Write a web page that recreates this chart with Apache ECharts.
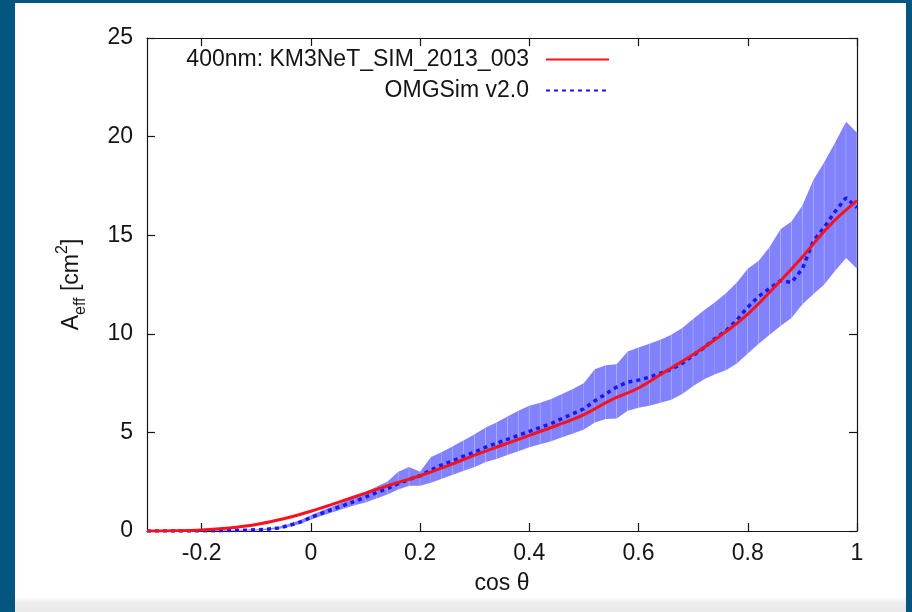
<!DOCTYPE html>
<html><head><meta charset="utf-8">
<script src="https://cdn.jsdelivr.net/npm/echarts@6/dist/echarts.min.js"></script>
<style>
html,body{margin:0;padding:0;width:912px;height:612px;overflow:hidden;background:#03567f;}
#paper{position:absolute;left:15px;top:3px;width:891px;height:609px;background:linear-gradient(to bottom,#ffffff 0,#ffffff 594px,#eeeeee 599px,#e8e8e8 609px);}
#chart{position:absolute;left:0;top:0;width:912px;height:612px;}
</style></head><body><div id="paper"></div><div id="chart"></div>
<script>
// ---- data ----
const xTicks = [-0.2, 0, 0.2, 0.4, 0.6, 0.8, 1];
const xTickLabels = ['-0.2', '0', '0.2', '0.4', '0.6', '0.8', '1'];
const yTicks = [0, 5, 10, 15, 20, 25];

const seriesKM3 = '400nm: KM3NeT_SIM_2013_003';
const seriesOMG = 'OMGSim v2.0';

const km3Cos = [-0.30,-0.25,-0.20,-0.15,-0.10,-0.05,0.00,0.05,0.10,0.15,0.20,0.25,0.30,0.35,0.40,0.45,0.50,0.55,0.60,0.65,0.70,0.75,0.80,0.85,0.90,0.95,1.00];
const km3Aeff = [0,0.01,0.05,0.15,0.33,0.62,1.0,1.45,1.92,2.38,2.8,3.3,3.85,4.35,4.85,5.35,5.9,6.65,7.25,8.1,8.95,9.9,11.0,12.4,13.9,15.5,16.75];

const omgCos = [-0.30,-0.28,-0.26,-0.24,-0.22,-0.20,-0.18,-0.16,-0.14,-0.12,-0.10,-0.08,-0.06,-0.04,-0.02,
  0.00,0.02,0.04,0.06,0.08,0.10,0.12,0.14,0.16,0.18,0.20,0.22,0.24,0.26,0.28,0.30,0.32,0.34,0.36,0.38,
  0.40,0.42,0.44,0.46,0.48,0.50,0.52,0.54,0.56,0.58,0.60,0.62,0.64,0.66,0.68,0.70,0.72,0.74,0.76,0.78,
  0.80,0.82,0.84,0.86,0.88,0.90,0.92,0.94,0.96,0.98,1.00];
const omgMean = [0,0,0,0,0,
  0.01,0.01,0.02,0.03,0.04,0.06,0.09,0.15,0.28,0.45,
  0.68,0.9,1.1,1.3,1.5,1.72,1.95,2.15,2.4,2.62,
  2.8,3.1,3.35,3.55,3.8,4.0,4.25,4.45,4.65,4.85,
  5.05,5.25,5.45,5.7,5.95,6.2,6.6,6.95,7.3,7.55,
  7.65,7.8,8.0,8.2,8.5,8.9,9.3,9.75,10.15,10.7,
  11.35,11.9,12.3,12.7,12.6,13.3,14.7,15.4,16.2,16.9,
  16.4];
const omgLow = [0,0,0,0,0,
  0,0,0,0.01,0.02,0.03,0.05,0.1,0.2,0.36,
  0.57,0.77,0.95,1.13,1.3,1.45,1.65,1.85,2.1,2.3,
  2.3,2.45,2.65,2.85,3.05,3.25,3.5,3.65,3.85,4.05,
  4.25,4.4,4.55,4.75,4.95,5.15,5.5,5.68,5.7,6.1,
  6.25,6.35,6.5,6.65,6.95,7.35,7.7,7.95,8.15,8.5,
  9.0,9.5,9.95,10.4,10.8,11.5,12.0,12.5,13.2,13.85,
  13.3];
const omgHigh = [0,0,0,0,0,
  0.02,0.02,0.04,0.05,0.07,0.09,0.13,0.2,0.35,0.55,
  0.8,1.03,1.25,1.47,1.7,1.95,2.25,2.5,3.0,3.25,
  3.0,3.75,4.0,4.3,4.6,4.9,5.25,5.5,5.8,6.1,
  6.35,6.5,6.7,6.95,7.2,7.5,8.2,8.4,8.45,9.1,
  9.3,9.5,9.7,9.95,10.3,10.75,11.2,11.6,12.05,12.6,
  13.3,13.7,14.4,15.3,15.7,16.5,17.8,18.7,19.7,20.75,
  20.2];

// ---- chart ----
const FONT = '"Liberation Sans", Arial, Helvetica, sans-serif';
const INK = '#141414';
const FS = 23;
const chart = echarts.init(document.getElementById('chart'));

const km3Data = km3Cos.map((c, i) => [c, km3Aeff[i]]);
const omgData = omgCos.map((c, i) => [c, omgMean[i]]);
// one quad per bin: [x0, low0, high0, x1, low1, high1]
const bandQuads = omgCos.slice(0, -1).map((c, i) => [c, omgLow[i], omgHigh[i], omgCos[i + 1], omgLow[i + 1], omgHigh[i + 1]]);

const axisLine = { show: true, onZero: false, lineStyle: { color: INK, width: 1.2 } };
const tickStyle = { color: INK, width: 1.2 };
const legendText = { fontSize: FS, fontFamily: FONT, color: INK, padding: [0, 12, 0, 0] };

const option = {
  animation: false,
  backgroundColor: 'transparent',
  grid: { left: 147, top: 38, right: 55, bottom: 81, containLabel: false },
  legend: [
    { data: [seriesKM3], right: 297, top: 43, align: 'right', itemWidth: 63, itemHeight: 14, selectedMode: false,
      itemStyle: { opacity: 0 }, textStyle: legendText },
    { data: [seriesOMG], right: 297, top: 74, align: 'right', itemWidth: 63, itemHeight: 14, selectedMode: false,
      itemStyle: { opacity: 0 }, textStyle: legendText }
  ],
  xAxis: [
    { type: 'value', min: -0.3, max: 1, position: 'bottom',
      name: 'cos θ', nameLocation: 'middle', nameGap: 41,
      nameTextStyle: { fontSize: FS, fontFamily: FONT, color: INK },
      axisLine: axisLine,
      axisTick: { show: true, inside: true, length: 8, customValues: xTicks, lineStyle: tickStyle },
      axisLabel: { customValues: xTicks, margin: 11, fontSize: FS, fontFamily: FONT, color: INK,
        formatter: v => { const k = xTicks.findIndex(t => Math.abs(t - v) < 1e-9); return k >= 0 ? xTickLabels[k] : ''; } },
      splitLine: { show: false } },
    { type: 'value', min: -0.3, max: 1, position: 'top',
      axisLine: axisLine,
      axisTick: { show: true, inside: true, length: 8, customValues: xTicks, lineStyle: tickStyle },
      axisLabel: { show: false }, splitLine: { show: false } }
  ],
  yAxis: [
    { type: 'value', min: 0, max: 25, interval: 5, position: 'left',
      name: '{a|A}{s|eff}{a| [cm}{p|2}{a|]}', nameLocation: 'middle', nameGap: 58, nameRotate: 90,
      nameTextStyle: { fontSize: FS, fontFamily: FONT, color: INK,
        rich: {
          a: { fontSize: FS, fontFamily: FONT, color: INK, lineHeight: 34, verticalAlign: 'middle' },
          s: { fontSize: 16, fontFamily: FONT, color: INK, lineHeight: 16, verticalAlign: 'bottom' },
          p: { fontSize: 16, fontFamily: FONT, color: INK, lineHeight: 16, verticalAlign: 'top' }
        } },
      axisLine: axisLine,
      axisTick: { show: true, inside: true, length: 8, lineStyle: tickStyle },
      axisLabel: { margin: 14, fontSize: FS, fontFamily: FONT, color: INK,
        formatter: v => (yTicks.indexOf(v) >= 0 ? String(v) : '') },
      splitLine: { show: false } },
    { type: 'value', min: 0, max: 25, interval: 5, position: 'right',
      axisLine: axisLine,
      axisTick: { show: true, inside: true, length: 8, lineStyle: tickStyle },
      axisLabel: { show: false }, splitLine: { show: false } }
  ],
  series: [
    { name: 'band', type: 'custom', data: bandQuads, silent: true, z: 1,
      encode: { x: [0, 3], y: [1, 2, 4, 5] },
      renderItem: (params, api) => {
        const a = api.coord([api.value(0), api.value(1)]);
        const b = api.coord([api.value(3), api.value(4)]);
        const c = api.coord([api.value(3), api.value(5)]);
        const d = api.coord([api.value(0), api.value(2)]);
        return { type: 'group', children: [
          { type: 'polygon', shape: { points: [a, b, c, d] }, style: { fill: '#8282fc' } },
          { type: 'line', shape: { x1: b[0], y1: b[1], x2: c[0], y2: c[1] },
            style: { stroke: 'rgba(255,255,255,0.28)', lineWidth: 1 } }
        ] };
      } },
    { name: seriesOMG, type: 'line', data: omgData, symbol: 'none', z: 3,
      itemStyle: { color: '#1717f8' },
      lineStyle: { color: '#1717f8', width: 3.5, type: [4, 4] } },
    { name: seriesKM3, type: 'line', data: km3Data, symbol: 'none', smooth: 0.4, z: 4,
      itemStyle: { color: '#f5141e' },
      lineStyle: { color: '#f5141e', width: 3 } }
  ]
};
chart.setOption(option);
</script></body></html>
